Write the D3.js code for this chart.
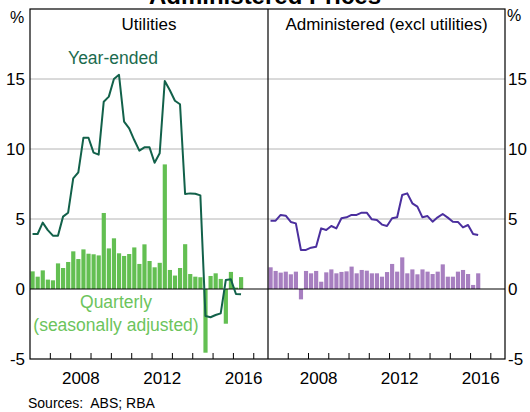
<!DOCTYPE html>
<html>
<head>
<meta charset="utf-8">
<script src="https://cdn.jsdelivr.net/npm/d3@7"></script>
<style>
  body { margin: 0; background: #fff; }
  text { font-family: Arial, "Liberation Sans", sans-serif; }
</style>
</head>
<body>
<svg id="chart" width="530" height="412"></svg>
<script>
///////// Data (quarterly, first quarter = March 2006)
var startYear = 2006
var utilQuarterly = [1.26, 0.88, 1.33, 0.67, 0.62, 1.83, 1.5, 1.93, 2.69, 2.14, 2.83, 2.52, 2.48, 2.4,
                     5.43, 2.9, 3.62, 2.55, 2.36, 2.5, 2.97, 1.79, 3.19, 2.0, 1.55, 1.87, 8.9, 1.36,
                     0.96, 1.5, 3.2, 1.07, 0.88, 0.84, -4.55, 0.93, 1.12, 0.72, -2.48, 1.22, 0.1, 0.85]
var utilYearEnded = [3.93, 3.93, 4.74, 4.21, 3.81, 3.81, 5.17, 5.45, 7.9, 8.33, 10.8, 10.8, 9.74, 9.6,
                     13.38, 13.74, 15.0, 15.3, 11.95, 11.48, 10.64, 9.88, 10.12, 10.12, 9.02, 9.69, 14.86, 14.2,
                     13.45, 13.2, 6.79, 6.83, 6.8, 6.69, -1.93, -2.02, -1.86, -1.74, 0.64, 0.69, -0.36, -0.38]
var adminQuarterly = [1.55, 1.29, 1.17, 1.24, 1.05, 1.24, -0.74, 1.29, 1.12, 1.29, 0.52, 1.19, 1.4, 1.12,
                      1.22, 1.26, 1.6, 1.12, 1.36, 1.31, 1.12, 1.12, 0.88, 1.21, 1.79, 1.24, 2.26, 1.12,
                      1.4, 1.05, 1.4, 1.24, 1.07, 1.24, 1.76, 0.88, 0.88, 1.24, 1.36, 1.07, 0.29, 1.12]
var adminYearEnded = [4.88, 4.88, 5.29, 5.24, 4.79, 4.69, 2.79, 2.79, 2.95, 3.02, 4.33, 4.21, 4.5, 4.33,
                      5.05, 5.12, 5.29, 5.29, 5.45, 5.45, 4.98, 4.93, 4.6, 4.5, 5.05, 5.12, 6.71, 6.83,
                      6.12, 5.88, 5.12, 5.21, 4.81, 5.12, 5.36, 5.1, 4.81, 4.79, 4.4, 4.57, 3.93, 3.86]
var yTicks = [-5, 0, 5, 10, 15]
var yearTicks = [2007, 2008, 2009, 2010, 2011, 2012, 2013, 2014, 2015, 2016, 2017]
var yearLabels = [2008, 2012, 2016]

var svg = d3.select("#chart")

// plot box (note: "top" is taken by window.top, so use plotTop)
var plotTop = 9, plotBottom = 359
var plotLeft = 30, plotMid = 268, plotRight = 505

var yScale = d3.scaleLinear().domain([-5, 20]).range([plotBottom, plotTop])

///////// Title (sits mostly above the frame)
svg.append("text")
   .attr("x", 265).attr("y", 4)
   .attr("text-anchor", "middle")
   .style("font-size", "24px").style("font-weight", "bold")
   .text("Administered Prices")

///////// Gridlines across both panels
svg.selectAll(".grid")
   .data(yTicks.filter(function(d) { return d > -5 && d != 0 }))
   .enter().append("line")
   .attr("class", "grid")
   .attr("x1", plotLeft).attr("x2", plotRight)
   .attr("y1", function(d) { return yScale(d) })
   .attr("y2", function(d) { return yScale(d) })
   .attr("stroke", "#b4b4b4").attr("stroke-width", 1)

///////// Y labels both sides
svg.selectAll(".ylabL")
   .data(yTicks).enter().append("text")
   .attr("class", "ylabL")
   .attr("x", 25).attr("y", function(d) { return yScale(d) + 6 })
   .attr("text-anchor", "end")
   .style("font-size", "17px")
   .text(function(d) { return d })
svg.selectAll(".ylabR")
   .data(yTicks).enter().append("text")
   .attr("class", "ylabR")
   .attr("x", 508).attr("y", function(d) { return yScale(d) + 6 })
   .attr("text-anchor", "start")
   .style("font-size", "17px")
   .text(function(d) { return d })
svg.append("text").attr("x", 17).attr("y", 23).attr("text-anchor", "middle")
   .style("font-size", "16px").text("%")
svg.append("text").attr("x", 514).attr("y", 21).attr("text-anchor", "middle")
   .style("font-size", "16px").text("%")

///////// Draws one panel: bars, line, ticks, labels
function drawPanel(x0, x1, title, bars, line, barColor, lineColor) {
    var xScale = d3.scaleLinear().domain([startYear, 2017.7]).range([x0, x1])
    var q = function(i) { return startYear + i * 0.25 }

    var g = svg.append("g")

    g.selectAll(".bar")
     .data(bars).enter().append("rect")
     .attr("class", "bar")
     .attr("x", function(d, i) { return xScale(q(i)) + 0.5 })
     .attr("width", function(d, i) { return xScale(q(i + 1)) - xScale(q(i)) - 0.9 })
     .attr("y", function(d) { return yScale(Math.max(0, d)) })
     .attr("height", function(d) { return Math.abs(yScale(d) - yScale(0)) })
     .attr("fill", barColor)

    // zero line
    g.append("line")
     .attr("x1", x0).attr("x2", x1)
     .attr("y1", yScale(0)).attr("y2", yScale(0))
     .attr("stroke", "#000").attr("stroke-width", 1)

    var lineGen = d3.line()
        .x(function(d, i) { return xScale(q(i) + 0.125) })
        .y(function(d) { return yScale(d) })
    g.append("path")
     .datum(line)
     .attr("d", lineGen)
     .attr("fill", "none")
     .attr("stroke", lineColor)
     .attr("stroke-width", 2)
     .attr("stroke-linejoin", "round")

    // year ticks pointing up from the bottom axis
    g.selectAll(".xtick")
     .data(yearTicks).enter().append("line")
     .attr("x1", function(d) { return xScale(d) })
     .attr("x2", function(d) { return xScale(d) })
     .attr("y1", plotBottom).attr("y2", plotBottom - 6)
     .attr("stroke", "#000").attr("stroke-width", 1)

    g.selectAll(".xlab")
     .data(yearLabels).enter().append("text")
     .attr("x", function(d) { return xScale(d + 0.5) })
     .attr("y", 384)
     .attr("text-anchor", "middle")
     .style("font-size", "17px")
     .text(function(d) { return d })

    g.append("text")
     .attr("x", (x0 + x1) / 2).attr("y", 30)
     .attr("text-anchor", "middle")
     .style("font-size", "17px")
     .text(title)
}

drawPanel(plotLeft, plotMid, "Utilities", utilQuarterly, utilYearEnded, "#63bf52", "#12614a")
drawPanel(plotMid, plotRight, "Administered (excl utilities)", adminQuarterly, adminYearEnded, "#a77fc0", "#4b2f9e")

///////// Frame
svg.append("rect")
   .attr("x", plotLeft).attr("y", plotTop)
   .attr("width", plotRight - plotLeft).attr("height", plotBottom - plotTop)
   .attr("fill", "none").attr("stroke", "#000").attr("stroke-width", 1.2)
svg.append("line")
   .attr("x1", plotMid).attr("x2", plotMid).attr("y1", plotTop).attr("y2", plotBottom)
   .attr("stroke", "#000").attr("stroke-width", 1.2)

///////// Series annotations
svg.append("text").attr("x", 113).attr("y", 64).attr("text-anchor", "middle")
   .style("font-size", "17.5px").attr("fill", "#1b6b4e").text("Year-ended")
svg.append("text").attr("x", 116).attr("y", 308).attr("text-anchor", "middle")
   .style("font-size", "17.5px").attr("fill", "#6cc45c").text("Quarterly")
svg.append("text").attr("x", 116).attr("y", 331).attr("text-anchor", "middle")
   .style("font-size", "17.5px").attr("fill", "#6cc45c").text("(seasonally adjusted)")

svg.append("text").attr("x", 28).attr("y", 408)
   .style("font-size", "14px").attr("xml:space", "preserve")
   .text("Sources:  ABS; RBA")
</script>
</body>
</html>
